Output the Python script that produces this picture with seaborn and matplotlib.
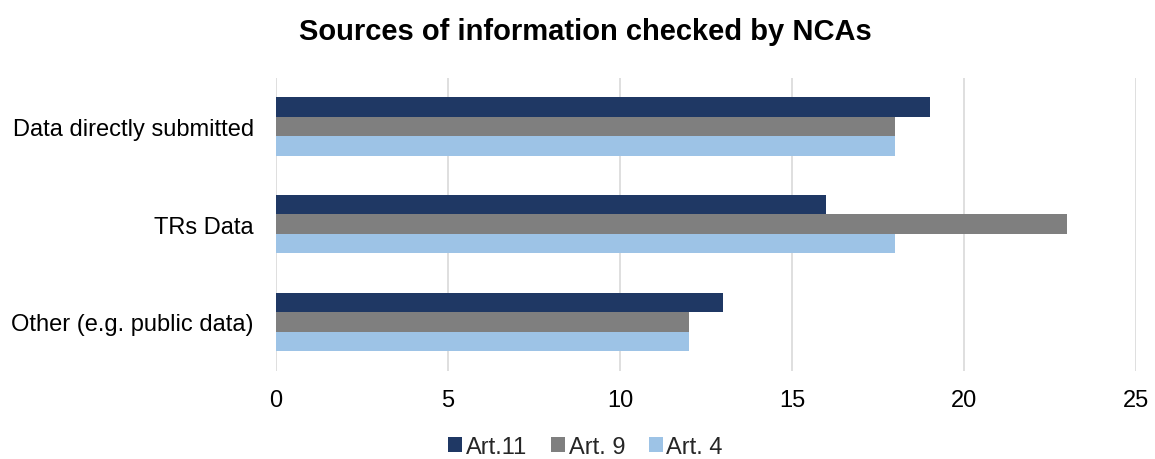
import pandas as pd
import matplotlib.pyplot as plt
import seaborn as sns

# Data
categories = ["Data directly submitted", "TRs Data", "Other (e.g. public data)"]
series_names = ["Art.11", "Art. 9", "Art. 4"]
art11 = [19, 16, 13]
art9 = [18, 23, 12]
art4 = [18, 18, 12]

colors = ["#1F3864", "#7F7F7F", "#9DC3E6"]


def build_frame():
    rows = []
    for name, vals in zip(series_names, [art11, art9, art4]):
        for cat, v in zip(categories, vals):
            rows.append({"category": cat, "series": name, "value": v})
    return pd.DataFrame(rows)


def main():
    df = build_frame()
    sns.set_theme(style="white")
    plt.rcParams["font.family"] = ["Liberation Sans", "DejaVu Sans"]

    fig = plt.figure(figsize=(11.55, 4.6), dpi=100)
    ax = fig.add_axes([0.239, 0.192, 0.7445, 0.637])

    sns.barplot(
        data=df, y="category", x="value", hue="series",
        order=categories, hue_order=series_names,
        palette=colors, width=0.6, saturation=1,
        edgecolor="none", linewidth=0, ax=ax,
    )

    ax.set_xlim(0, 25)
    ax.set_xticks(range(0, 26, 5))
    ax.xaxis.grid(True, color="#D9D9D9", linewidth=1.2)
    ax.set_axisbelow(True)
    for s in ax.spines.values():
        s.set_visible(False)
    ax.tick_params(axis="both", length=0, labelsize=17, colors="black")
    ax.tick_params(axis="x", pad=13)
    ax.tick_params(axis="y", pad=16)
    ax.set_xlabel("")
    ax.set_ylabel("")

    fig.suptitle("Sources of information checked by NCAs", x=0.507, y=0.96,
                 fontsize=21, fontweight="bold", color="black")

    handles, labels = ax.get_legend_handles_labels()
    ax.legend(handles, labels, loc="center", bbox_to_anchor=(0.507, 0.027),
              bbox_transform=fig.transFigure, ncol=3, frameon=False,
              fontsize=17, handlelength=0.6, handleheight=0.6,
              handletextpad=0.15, columnspacing=1.0)

    fig.savefig("out.png", dpi=100)
    plt.close(fig)


if __name__ == "__main__":
    main()
